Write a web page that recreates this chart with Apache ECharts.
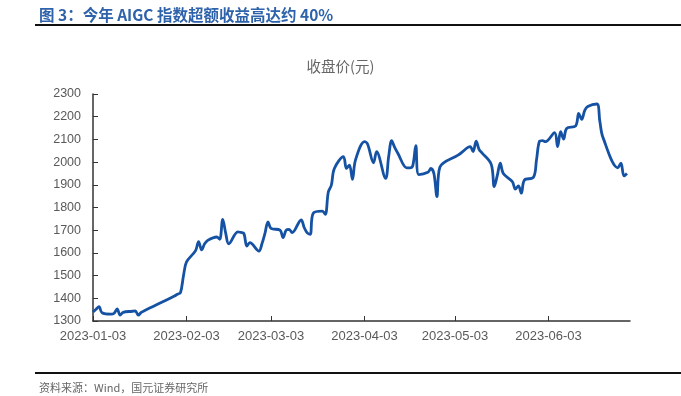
<!DOCTYPE html>
<html>
<head>
<meta charset="utf-8">
<script src="https://cdn.jsdelivr.net/npm/echarts@6/dist/echarts.min.js"></script>
<style>
html,body{margin:0;padding:0;background:#fff;}
#chart{width:681px;height:396px;}
</style>
</head>
<body>
<div id="chart"></div>
<script>
const dates = [
 "2023-01-03","2023-01-04","2023-01-05","2023-01-06","2023-01-09","2023-01-10","2023-01-11","2023-01-12","2023-01-13",
 "2023-01-16","2023-01-17","2023-01-18","2023-01-19","2023-01-20","2023-01-30","2023-01-31",
 "2023-02-01","2023-02-02","2023-02-03","2023-02-06","2023-02-07","2023-02-08","2023-02-09","2023-02-10",
 "2023-02-13","2023-02-14","2023-02-15","2023-02-16","2023-02-17","2023-02-20","2023-02-21","2023-02-22","2023-02-23","2023-02-24",
 "2023-02-27","2023-02-28","2023-03-01","2023-03-02","2023-03-03","2023-03-06","2023-03-07","2023-03-08","2023-03-09","2023-03-10",
 "2023-03-13","2023-03-14","2023-03-15","2023-03-16","2023-03-17","2023-03-20","2023-03-21","2023-03-22","2023-03-23","2023-03-24",
 "2023-03-27","2023-03-28","2023-03-29","2023-03-30","2023-03-31","2023-04-03","2023-04-04","2023-04-06","2023-04-07",
 "2023-04-10","2023-04-11","2023-04-12","2023-04-13","2023-04-14","2023-04-17","2023-04-18","2023-04-19","2023-04-20","2023-04-21",
 "2023-04-24","2023-04-25","2023-04-26","2023-04-27","2023-04-28","2023-05-04","2023-05-05",
 "2023-05-08","2023-05-09","2023-05-10","2023-05-11","2023-05-12","2023-05-15","2023-05-16","2023-05-17","2023-05-18","2023-05-19",
 "2023-05-22","2023-05-23","2023-05-24","2023-05-25","2023-05-26","2023-05-29","2023-05-30","2023-05-31","2023-06-01","2023-06-02",
 "2023-06-05","2023-06-06","2023-06-07","2023-06-08","2023-06-09","2023-06-12","2023-06-13","2023-06-14","2023-06-15","2023-06-16",
 "2023-06-19","2023-06-20","2023-06-21","2023-06-26","2023-06-27","2023-06-28","2023-06-29"
];
const closes = [
 1340,1352,1363,1336,1330,1334,1353,1326,1338,
 1343,1345,1326,1338,1345,1410,1418,
 1425,1500,1560,1610,1650,1613,1640,1655,
 1670,1660,1748,1686,1640,1693,1690,1686,1630,1645,
 1608,1640,1686,1737,1708,1700,1667,1700,1704,1689,
 1745,1712,1688,1682,1775,1784,1770,1868,1898,1972,
 2024,1972,1987,1924,2009,2090,2080,1997,2046,
 1928,2024,2094,2065,2040,1975,1975,1985,2072,1945,
 1955,1972,1950,1848,1978,2031,2040,
 2068,2046,2092,2055,2040,1990,1892,1940,1995,1950,
 1914,1881,1895,1863,1921,1933,2009,2092,2095,2090,
 2130,2068,2134,2101,2148,2160,2214,2188,2228,2245,
 2256,2180,2110,1975,1995,1939,1950
];
const yTicks = {min:1300, max:2300, step:100};
const xTickLabels = ["2023-01-03","2023-02-03","2023-03-03","2023-04-03","2023-05-03","2023-06-03"];
const xMinDate = "2023-01-03", xMaxDate = "2023-06-30";

function ts(s){ const p = s.split('-').map(Number); return Date.UTC(p[0], p[1]-1, p[2]); }
function fmt(v){ const d = new Date(v); const m = d.getUTCMonth()+1, dd = d.getUTCDate();
  return d.getUTCFullYear() + '-' + (m<10?'0':'') + m + '-' + (dd<10?'0':'') + dd; }

const seriesData = dates.map((d,i)=>[ts(d), closes[i]]);
const tickVals = xTickLabels.map(ts);

const chart = echarts.init(document.getElementById('chart'), null, {renderer:'canvas'});
chart.setOption({
  animation:false,
  backgroundColor:'#fff',
  title:[{
    text:'图 3：今年 AIGC 指数超额收益高达约 40%',
    left:34, top:2,
    textStyle:{color:'#2e62ab', fontSize:15.5, fontWeight:'bold', fontFamily:'"Noto Sans CJK SC", sans-serif'}
  },{
    text:'收盘价(元)',
    left:'center', top:54,
    textStyle:{color:'#666', fontSize:14.5, fontWeight:'normal', fontFamily:'"Noto Sans CJK SC", sans-serif'}
  },{
    text:'资料来源：Wind，国元证券研究所',
    left:34, top:377,
    textStyle:{color:'#666', fontSize:11, fontWeight:'normal', fontFamily:'"Noto Sans CJK SC", sans-serif'}
  }],
  graphic:[
    {type:'line', shape:{x1:35,y1:25,x2:681,y2:25}, style:{stroke:'#111', lineWidth:2}},
    {type:'line', shape:{x1:35,y1:373,x2:681,y2:373}, style:{stroke:'#111', lineWidth:2}}
  ],
  grid:{left:93, right:51, top:94, bottom:75},
  xAxis:{
    type:'value',
    min:ts(xMinDate), max:ts(xMaxDate),
    axisLine:{show:true, lineStyle:{color:'#333', width:1.5}},
    axisTick:{show:true, inside:true, length:5, customValues:tickVals, lineStyle:{color:'#333'}},
    axisLabel:{customValues:tickVals, formatter:(v)=>fmt(v), color:'#595959', fontSize:13, fontFamily:'"Liberation Sans", Arial, sans-serif', margin:9},
    splitLine:{show:false}
  },
  yAxis:{
    type:'value',
    min:yTicks.min, max:yTicks.max, interval:yTicks.step,
    axisLine:{show:true, lineStyle:{color:'#333', width:1.5}},
    axisTick:{show:true, inside:true, length:5, lineStyle:{color:'#333'}},
    axisLabel:{formatter:(v)=>String(v), color:'#595959', fontSize:12.5, fontFamily:'"Liberation Sans", Arial, sans-serif', margin:12},
    splitLine:{show:false}
  },
  series:[{
    type:'line',
    name:'收盘价(元)',
    data:seriesData,
    smooth:0.35,
    showSymbol:false,
    lineStyle:{color:'#1552a3', width:2.8},
    itemStyle:{color:'#1552a3'}
  }]
});
</script>
</body>
</html>
